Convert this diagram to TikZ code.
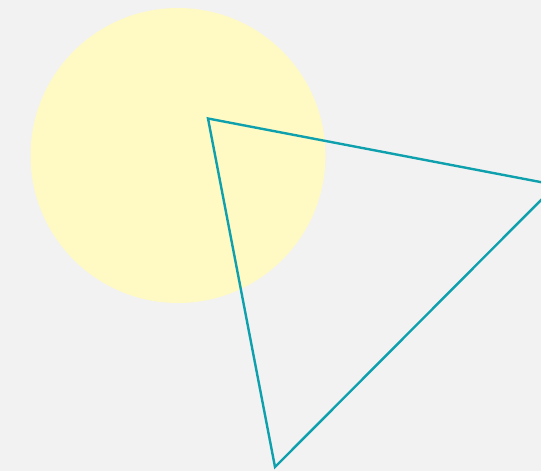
\documentclass[tikz,border=0pt]{standalone}
\definecolor{bgc}{HTML}{F2F2F2}
\definecolor{sunc}{HTML}{FFF9C4}
\definecolor{tealc}{HTML}{0FA0AE}
\begin{document}
\begin{tikzpicture}[x=1pt,y=-1pt]
\useasboundingbox (0,0) rectangle (541,471);
\fill[bgc] (0,0) rectangle (541,471);
\clip (0,0) rectangle (541,471);
\fill[sunc] (178,155.5) circle (147.5);
\coordinate (a) at (208,118.5);
\coordinate (b) at (556,185);
\coordinate (c) at (275,467);
\draw[tealc, line width=2.4pt, line join=miter] (a) -- (b) -- (c) -- cycle;
\end{tikzpicture}
\end{document}
